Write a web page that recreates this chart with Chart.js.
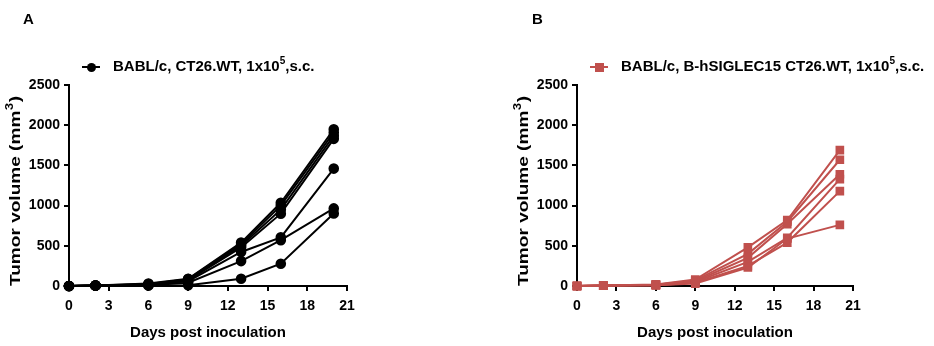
<!DOCTYPE html>
<html>
<head>
<meta charset="utf-8">
<script src="https://cdn.jsdelivr.net/npm/chart.js"></script>
<style>
  body { margin: 0; background: #fff; font-family: "Liberation Sans", Arial, sans-serif; }
  #wrap { position: relative; width: 934px; height: 346px; overflow: hidden; }
  .panel { position: absolute; top: 0; width: 467px; height: 346px; }
  .letter { position: absolute; font-weight: bold; font-size: 15px; color: #000; }
  .legend { position: absolute; font-weight: bold; font-size: 15px; color: #000; white-space: nowrap; }
  .legend sup { font-size: 10px; vertical-align: 7px; line-height: 0; }
  .mk { display: inline-block; position: relative; width: 18px; height: 10px; margin-right: 13px; vertical-align: -1px; }
  .mk .ln { position: absolute; left: 0; right: 0; top: 4px; height: 2px; }
  .mk .pt { position: absolute; left: 4.5px; top: 0.5px; width: 9px; height: 9px; }
</style>
</head>
<body>
<div id="wrap">
  <div class="panel" style="left:0"><canvas id="chartA" width="467" height="346"></canvas></div>
  <div class="panel" style="left:467px"><canvas id="chartB" width="467" height="346"></canvas></div>
  <div class="letter" style="left:23px;top:10px">A</div>
  <div class="letter" style="left:532px;top:10px">B</div>
  <div class="legend" style="left:82px;top:57px">
    <span class="mk"><span class="ln" style="background:#000"></span><span class="pt" style="background:#000;border-radius:50%"></span></span>BABL/c, CT26.WT, 1x10<sup>5</sup>,s.c.
  </div>
  <div class="legend" style="left:590px;top:57px">
    <span class="mk"><span class="ln" style="background:#c0504d"></span><span class="pt" style="background:#c0504d"></span></span>BABL/c, B-hSIGLEC15 CT26.WT, 1x10<sup>5</sup>,s.c.
  </div>
</div>
<script>
const days = [0, 2, 6, 9, 13, 16, 20];
const xTicks = [0, 3, 6, 9, 12, 15, 18, 21];
const yTicks = [0, 500, 1000, 1500, 2000, 2500];

// CT26.WT, one array per mouse
const wtMice = [
  [0, 5, 30, 90, 540, 1035, 1950],
  [0, 5, 25, 85, 520, 1000, 1910],
  [0, 5, 20, 80, 500, 950, 1870],
  [0, 5, 20, 70, 480, 900, 1830],
  [0, 5, 15, 60, 423, 605, 1460],
  [0, 5, 10, 40, 310, 570, 965],
  [0, 5, 5, 10, 90, 277, 902]
];

// B-hSIGLEC15 CT26.WT, one array per mouse
const sigMice = [
  [0, 5, 20, 80, 480, 820, 1690],
  [0, 5, 15, 70, 400, 800, 1570],
  [0, 5, 15, 60, 350, 770, 1390],
  [0, 5, 10, 50, 300, 600, 1330],
  [0, 5, 10, 40, 250, 540, 1180],
  [0, 5, 10, 30, 230, 590, 760]
];

const FAMILY = '"Liberation Sans", Arial, sans-serif';
const tickFont = { family: FAMILY, size: 14, weight: "bold" };
const titleFont = { family: FAMILY, size: 15, weight: "bold" };

// y title with a real superscript, stretched along its length like the original
const yTitle = {
  id: "yTitle",
  afterDraw(chart, args, opts) {
    const ctx = chart.ctx;
    const a = "Tumor volume (mm", s = "3", b = ")";
    ctx.save();
    ctx.fillStyle = "#000";
    ctx.font = "bold 15px " + FAMILY;
    const wa = ctx.measureText(a).width, wb = ctx.measureText(b).width;
    ctx.font = "bold 10px " + FAMILY;
    const ws = ctx.measureText(s).width + 1;
    const w = wa + ws + wb;
    ctx.translate(opts.x, opts.y);
    ctx.rotate(-Math.PI / 2);
    ctx.scale(opts.len / w, 1);
    ctx.textBaseline = "alphabetic";
    let x = -w / 2;
    ctx.font = "bold 15px " + FAMILY;
    ctx.fillText(a, x, 5); x += wa;
    ctx.font = "bold 10px " + FAMILY;
    ctx.fillText(s, x + 0.5, -2); x += ws;
    ctx.font = "bold 15px " + FAMILY;
    ctx.fillText(b, x, 5);
    ctx.restore();
  }
};

function makeChart(id, mice, color, style, padLeft, padRight) {
  const datasets = mice.map(m => ({
    data: m.map((v, i) => ({ x: days[i], y: v })),
    borderColor: color, backgroundColor: color,
    borderWidth: 2, pointStyle: style,
    pointRadius: style === "rect" ? 4.7 : 4.3, pointHoverRadius: 4,
    clip: false, tension: 0
  }));
  return new Chart(document.getElementById(id), {
    type: "line",
    data: { datasets },
    plugins: [yTitle],
    options: {
      responsive: false, animation: false,
      layout: { padding: { left: padLeft, right: padRight, top: 85, bottom: 0 } },
      plugins: { legend: { display: false }, tooltip: { enabled: false }, yTitle: { x: padLeft + 15, y: 191, len: 190 } },
      scales: {
        x: {
          type: "linear", min: 0, max: 21,
          afterBuildTicks: s => { s.ticks = xTicks.map(v => ({ value: v })); },
          afterFit: s => { s.height = 60; },
          border: { color: "#000", width: 2 },
          grid: { drawOnChartArea: false, drawTicks: true, tickLength: 5, color: "#000", lineWidth: 2 },
          ticks: { color: "#000", font: tickFont, padding: 7, maxRotation: 0, callback: v => String(v) },
          title: { display: true, text: "Days post inoculation", color: "#000", font: titleFont, padding: { top: 1 } }
        },
        y: {
          min: 0, max: 2500,
          afterBuildTicks: s => { s.ticks = yTicks.map(v => ({ value: v })); },
          afterFit: s => { s.width = 69; },
          border: { color: "#000", width: 2 },
          grid: { drawOnChartArea: false, drawTicks: true, tickLength: 5, color: "#000", lineWidth: 2 },
          ticks: { color: "#000", font: tickFont, padding: 4, callback: v => String(v) },
          title: { display: false }
        }
      }
    }
  });
}

makeChart("chartA", wtMice, "#000", "circle", 0, 120);
makeChart("chartB", sigMice, "#c0504d", "rect", 41, 81);
</script>
</body>
</html>
